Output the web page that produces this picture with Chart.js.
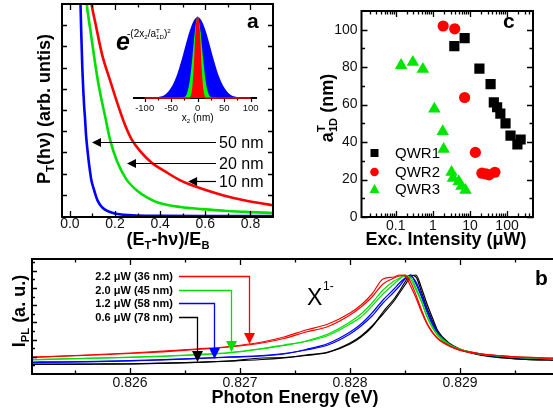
<!DOCTYPE html>
<html>
<head>
<meta charset="utf-8">
<title>Trion tail and localization length</title>
<script src="https://cdn.jsdelivr.net/npm/chart.js@4.4.1/dist/chart.umd.min.js"></script>
<style>
  html, body { margin: 0; padding: 0; overflow: hidden; background: #fff; }
  body { position: relative; width: 553px; height: 418px; }
  canvas { position: absolute; }
</style>
</head>
<body>
<canvas id="chartA" width="280" height="250" style="left:0;top:0"></canvas>
<canvas id="inset" width="140" height="125" style="left:125px;top:5px"></canvas>
<canvas id="chartC" width="273" height="250" style="left:280px;top:0"></canvas>
<canvas id="chartB" width="560" height="168" style="left:0;top:250px"></canvas>
<script>
const FONT = "'Liberation Sans', Arial, Helvetica, sans-serif";
const INK = '#111';
const RED = '#ff0000', GREEN = '#00e000', BLUE = '#0000ff', BLACK = '#000000';

// ---- (a) low energy tail P_T for 10, 20, 50 nm
const tailRedX = [0.085, 0.093, 0.115, 0.143, 0.178, 0.211, 0.244, 0.274, 0.316, 0.364, 0.422, 0.489, 0.585, 0.681, 0.777, 0.9];
const tailRedY = [1.10, 1.02, 0.90, 0.76, 0.64, 0.53, 0.43, 0.36, 0.30, 0.25, 0.21, 0.168, 0.128, 0.097, 0.073, 0.05];
const tailGreenX = [0.070, 0.074, 0.082, 0.093, 0.105, 0.119, 0.134, 0.156, 0.178, 0.208, 0.249, 0.297, 0.345, 0.393, 0.489, 0.585, 0.681, 0.777, 0.9];
const tailGreenY = [1.15, 1.02, 0.94, 0.86, 0.77, 0.67, 0.58, 0.47, 0.36, 0.26, 0.175, 0.12, 0.085, 0.062, 0.042, 0.032, 0.025, 0.019, 0.014];
const tailBlueX = [0.044, 0.047, 0.051, 0.055, 0.059, 0.063, 0.067, 0.071, 0.076, 0.081, 0.086, 0.095, 0.105, 0.115, 0.124, 0.143, 0.163, 0.191, 0.220, 0.259, 0.297, 0.393, 0.585, 0.9];
const tailBlueY = [1.2, 1.0, 0.84, 0.70, 0.60, 0.52, 0.46, 0.39, 0.33, 0.28, 0.235, 0.17, 0.13, 0.095, 0.07, 0.04, 0.025, 0.014, 0.008, 0.004, 0.002, 0.0005, 0, 0];
const tickLabelsA = [0, 0.2, 0.4, 0.6, 0.8];
const minorTicksA = [0.1, 0.3, 0.5, 0.7];
const levelTicksA = [0.1, 0.2, 0.3, 0.4, 0.5, 0.6, 0.7, 0.8, 0.9];
const arrowLabelsA = ['50 nm', '20 nm', '10 nm'];
const arrowTipXA = [0.098, 0.253, 0.524];
const arrowTipYA = [0.347, 0.252, 0.163];

// inset: wave functions along x2
const wfX = [-120, -100, -80, -70, -60, -50, -40, -30, -25, -20, -15, -10, -5, 0, 5, 10, 15, 20, 25, 30, 40, 50, 60, 70, 80, 100, 112];
const wfBlue = [0, 0.001, 0.006, 0.018, 0.05, 0.13, 0.27, 0.48, 0.60, 0.72, 0.83, 0.92, 0.98, 1.0, 0.98, 0.92, 0.83, 0.72, 0.60, 0.48, 0.27, 0.13, 0.05, 0.018, 0.006, 0.001, 0];
const wfGreen = [0, 0, 0, 0, 0, 0, 0, 0.005, 0.012, 0.06, 0.21, 0.50, 0.84, 1.0, 0.84, 0.50, 0.21, 0.06, 0.012, 0.005, 0, 0, 0, 0, 0, 0, 0];
const wfRedX = [-100, -15, -12, -9, -6, -3, 0, 3, 6, 9, 12, 15, 100];
const wfRed = [0, 0, 0.02, 0.11, 0.37, 0.78, 1.0, 0.78, 0.37, 0.11, 0.02, 0, 0];
const tickLabelsInset = [-100, -50, 0, 50, 100];
const minorTicksInset = [-75, -25, 25, 75];

// ---- (c) a_1D^T versus excitation intensity
const qwr1X = [3.8, 7.2, 18, 36, 44, 54, 66, 91, 124, 190, 232];
const qwr1Y = [91.2, 95.5, 79.2, 71, 61.2, 58.6, 55.2, 50, 43.5, 38.8, 41.4];
const qwr2X = [1.9, 3.9, 7.2, 14, 21, 27, 33, 47];
const qwr2Y = [102, 100.5, 63.8, 34.5, 23.4, 23, 22.5, 23.9];
const qwr3X = [0.14, 0.29, 0.54, 1.1, 1.85, 1.96, 3.2, 3.5, 5, 5.9, 7.6];
const qwr3Y = [81, 82.7, 78.9, 57.7, 45.7, 36.2, 23.9, 20.8, 19, 16.5, 14.3];
const seriesC = ['QWR1', 'QWR2', 'QWR3'];
const tickLabelsC = [0.1, 1, 10, 100];
const minorTicksC = [0.02, 0.03, 0.04, 0.05, 0.06, 0.07, 0.08, 0.09, 0.2, 0.3, 0.4, 0.5, 0.6, 0.7, 0.8, 0.9,
  2, 3, 4, 5, 6, 7, 8, 9, 20, 30, 40, 50, 60, 70, 80, 90, 200, 300, 400];
const sizeTicksC = [0, 20, 40, 60, 80, 100];
const minorSizeTicksC = [10, 30, 50, 70, 90];

// ---- (b) PL spectra, two traces per power
const energyB = [0.8251, 0.8254, 0.8257, 0.826, 0.8263, 0.8266, 0.8269, 0.8272, 0.8274, 0.8276, 0.8278, 0.828, 0.8281, 0.8282, 0.8283, 0.8284,
  0.82845, 0.8285, 0.82855, 0.8286, 0.82865, 0.8287, 0.82875, 0.8288, 0.8289, 0.829, 0.8291, 0.8292, 0.8294, 0.8296, 0.8298, 0.8299];
const pl22a = [0.165, 0.18, 0.195, 0.21, 0.228, 0.25, 0.275, 0.32, 0.37, 0.44, 0.50, 0.61, 0.69, 0.80, 0.95, 0.97, 0.99, 0.98, 0.88, 0.76, 0.62, 0.50, 0.41, 0.35, 0.28, 0.235, 0.212, 0.198, 0.178, 0.165, 0.158, 0.155];
const pl22b = [0.168, 0.178, 0.19, 0.205, 0.222, 0.245, 0.27, 0.31, 0.355, 0.42, 0.475, 0.59, 0.67, 0.77, 0.90, 0.96, 0.98, 0.99, 0.92, 0.79, 0.64, 0.51, 0.42, 0.355, 0.285, 0.242, 0.218, 0.2, 0.18, 0.168, 0.16, 0.157];
const pl20a = [0.14, 0.15, 0.158, 0.165, 0.175, 0.19, 0.21, 0.25, 0.285, 0.33, 0.40, 0.52, 0.60, 0.71, 0.84, 0.93, 0.96, 0.99, 0.95, 0.84, 0.72, 0.57, 0.46, 0.38, 0.29, 0.245, 0.215, 0.195, 0.175, 0.162, 0.153, 0.15];
const pl20b = [0.145, 0.152, 0.16, 0.168, 0.18, 0.195, 0.215, 0.255, 0.29, 0.325, 0.385, 0.50, 0.57, 0.68, 0.80, 0.90, 0.95, 0.98, 0.97, 0.86, 0.73, 0.58, 0.47, 0.39, 0.30, 0.25, 0.22, 0.20, 0.178, 0.163, 0.154, 0.15];
const pl12a = [0.115, 0.118, 0.123, 0.13, 0.14, 0.153, 0.168, 0.18, 0.2, 0.245, 0.305, 0.42, 0.50, 0.61, 0.74, 0.85, 0.91, 0.96, 0.99, 0.90, 0.77, 0.62, 0.49, 0.40, 0.29, 0.24, 0.215, 0.195, 0.175, 0.16, 0.152, 0.15];
const pl12b = [0.12, 0.122, 0.126, 0.133, 0.143, 0.156, 0.17, 0.185, 0.205, 0.24, 0.29, 0.40, 0.48, 0.58, 0.71, 0.82, 0.88, 0.95, 0.98, 0.92, 0.79, 0.64, 0.51, 0.41, 0.30, 0.245, 0.218, 0.197, 0.175, 0.16, 0.152, 0.148];
const pl06a = [0.097, 0.097, 0.098, 0.10, 0.107, 0.116, 0.128, 0.145, 0.162, 0.185, 0.215, 0.30, 0.37, 0.47, 0.62, 0.75, 0.83, 0.92, 0.99, 0.97, 0.82, 0.66, 0.53, 0.41, 0.30, 0.245, 0.21, 0.185, 0.16, 0.145, 0.14, 0.138];
const pl06b = [0.1, 0.099, 0.1, 0.102, 0.108, 0.117, 0.13, 0.16, 0.165, 0.19, 0.22, 0.31, 0.38, 0.48, 0.60, 0.73, 0.81, 0.89, 0.97, 0.99, 0.86, 0.70, 0.56, 0.43, 0.31, 0.25, 0.215, 0.19, 0.163, 0.147, 0.141, 0.139];
const powerLabels = ['2.2 \u03bcW (36 nm)', '2.0 \u03bcW (45 nm)', '1.2 \u03bcW (58 nm)', '0.6 \u03bcW (78 nm)'];
const arrowTipXB = [0.827082, 0.826918, 0.826764, 0.826609];
const arrowTipYB = [0.30, 0.22, 0.15, 0.12];
const tickLabelsB = [0.826, 0.827, 0.828, 0.829];
const minorTicksB = [0.8255, 0.8265, 0.8275, 0.8285, 0.8295];
const levelTicksB = [0.086, 0.172, 0.258, 0.344, 0.43, 0.516, 0.602, 0.688, 0.774, 0.86, 0.946, 1.032, 1.118];

const powerColors = [RED, GREEN, BLUE, BLACK];

// ---- helpers
function curve(xs, ys, color, width) {
  return {
    data: xs.map((x, i) => ({ x: x, y: ys[i] })),
    showLine: true, borderColor: color, borderWidth: width, pointRadius: 0,
    cubicInterpolationMode: 'monotone', clip: 0, fill: false
  };
}
function marks(values, len) { return values.map(v => [v, len]); }

function layoutRich(ctx, parts, size, style) {
  let x = 0, hold = 0;
  const out = [];
  parts.forEach(p => {
    const k = p.k || 'n';
    const s = k === 'n' ? size : size * 0.62;
    ctx.font = style + ' ' + s + 'px ' + FONT;
    const w = ctx.measureText(p.t).width;
    const dy = k === 'sup' ? -size * 0.42 : k === 'sub' ? size * 0.24 : 0;
    out.push({ t: p.t, x: x, dy: dy, s: s });
    if (p.stack) hold = w; else { x += Math.max(w, hold); hold = 0; }
  });
  return { out: out, width: x };
}
function drawRich(ctx, parts, x, y, size, style, align) {
  const L = layoutRich(ctx, parts, size, style);
  const x0 = align === 'center' ? x - L.width / 2 : align === 'right' ? x - L.width : x;
  ctx.textAlign = 'left';
  ctx.textBaseline = 'alphabetic';
  L.out.forEach(o => {
    ctx.font = style + ' ' + o.s + 'px ' + FONT;
    ctx.fillText(o.t, x0 + o.x, y + o.dy);
  });
}
function drawRotated(ctx, parts, bx, cy, size) {
  ctx.save();
  ctx.translate(bx, cy);
  ctx.rotate(-Math.PI / 2);
  drawRich(ctx, parts, 0, 0, size, 'bold', 'center');
  ctx.restore();
}

// box with inward ticks
function framePlugin(id, cfg) {
  return {
    id: id,
    afterDatasetsDraw(chart) {
      const ctx = chart.ctx, a = chart.chartArea;
      const xs = chart.scales.x, ys = chart.scales.y;
      ctx.save();
      ctx.strokeStyle = '#000';
      ctx.lineWidth = 1.3;
      ctx.beginPath();
      (cfg.x || []).forEach(([v, len]) => {
        const p = Math.round(xs.getPixelForValue(v)) + 0.5;
        if (p <= a.left + 1 || p >= a.right - 1) return;
        ctx.moveTo(p, a.bottom); ctx.lineTo(p, a.bottom - len);
        if (cfg.top) { ctx.moveTo(p, a.top); ctx.lineTo(p, a.top + len); }
      });
      (cfg.y || []).forEach(([v, len]) => {
        const p = Math.round(ys.getPixelForValue(v)) + 0.5;
        ctx.moveTo(a.left, p); ctx.lineTo(a.left + len, p);
        if (cfg.right) { ctx.moveTo(a.right, p); ctx.lineTo(a.right - len, p); }
      });
      ctx.stroke();
      ctx.lineWidth = 2;
      ctx.strokeRect(a.left, a.top, a.right - a.left, a.bottom - a.top);
      ctx.restore();
    }
  };
}

function xAxis(min, max, labels, fmt, size, pad, height) {
  return {
    type: 'linear', min: min, max: max,
    grid: { display: false, drawTicks: false }, border: { display: false },
    afterBuildTicks: s => { s.ticks = labels.map(v => ({ value: v })); },
    afterFit: s => { s.height = height; },
    ticks: { padding: pad, color: INK, maxRotation: 0, autoSkip: false,
      font: { family: FONT, size: size, lineHeight: 1 }, callback: fmt }
  };
}
const quiet = { legend: { display: false }, tooltip: { enabled: false } };

// ---- panel a
const notesA = {
  id: 'notesA',
  afterDraw(chart) {
    const ctx = chart.ctx, xs = chart.scales.x, ys = chart.scales.y;
    ctx.save();
    ctx.fillStyle = '#000';
    ctx.strokeStyle = '#000';
    arrowLabelsA.forEach((label, i) => {
      const tx = xs.getPixelForValue(arrowTipXA[i]);
      const ty = Math.round(ys.getPixelForValue(arrowTipYA[i])) + 0.5;
      ctx.lineWidth = 1.2;
      ctx.beginPath(); ctx.moveTo(tx + 8, ty); ctx.lineTo(216, ty); ctx.stroke();
      ctx.beginPath(); ctx.moveTo(tx, ty); ctx.lineTo(tx + 9, ty - 4.5); ctx.lineTo(tx + 9, ty + 4.5); ctx.closePath(); ctx.fill();
      ctx.font = '16px ' + FONT;
      ctx.textAlign = 'left';
      ctx.textBaseline = 'middle';
      ctx.fillText(label, 219, ty + 1);
    });
    drawRotated(ctx, [{ t: 'P' }, { t: 'T', k: 'sub' }, { t: '(h\u03bd) (arb. untis)' }], 50, 109, 18);
    drawRich(ctx, [{ t: '(E' }, { t: 'T', k: 'sub' }, { t: '-h\u03bd)/E' }, { t: 'B', k: 'sub' }], 168, 245, 18, 'bold', 'center');
    ctx.font = 'bold 21px ' + FONT;
    ctx.textAlign = 'left'; ctx.textBaseline = 'alphabetic';
    ctx.fillText('a', 247, 28);
    // inset formula
    ctx.font = 'italic bold 25px ' + FONT;
    ctx.fillText('e', 116, 50);
    drawRich(ctx, [{ t: '-(2x' }, { t: '2', k: 'sub' }, { t: '/a' }, { t: 'T', k: 'sup', stack: true }, { t: '1D', k: 'sub' }, { t: ')' }, { t: '2', k: 'sup' }], 127, 37, 10, 'normal', 'left');
    ctx.restore();
  }
};

new Chart(document.getElementById('chartA'), {
  type: 'scatter',
  data: { datasets: [
    curve(tailRedX, tailRedY, RED, 2.6),
    curve(tailGreenX, tailGreenY, GREEN, 2.6),
    curve(tailBlueX, tailBlueY, BLUE, 2.6)
  ] },
  options: {
    animation: false, responsive: false,
    layout: { padding: { left: 62, right: 7, top: 4, bottom: 13 } },
    scales: {
      x: xAxis(-0.035, 0.9, tickLabelsA, v => v.toFixed(1), 14, 0, 20),
      y: { type: 'linear', display: false, min: -0.005, max: 1.0 }
    },
    plugins: quiet
  },
  plugins: [framePlugin('frameA', {
    x: marks(tickLabelsA, 6).concat(marks(minorTicksA, 3.5)), y: marks(levelTicksA, 5), top: true, right: true
  }), notesA]
});

// ---- inset
const insetAxis = {
  id: 'insetAxis',
  beforeDatasetsDraw(chart) {
    const ctx = chart.ctx, a = chart.chartArea, xs = chart.scales.x;
    ctx.save();
    ctx.strokeStyle = '#000';
    ctx.lineWidth = 1.2;
    ctx.beginPath();
    marks(tickLabelsInset, 4).concat(marks(minorTicksInset, 2.5)).forEach(([v, len]) => {
      const p = Math.round(xs.getPixelForValue(v)) + 0.5;
      ctx.moveTo(p, a.bottom); ctx.lineTo(p, a.bottom + len);
    });
    ctx.stroke();
    ctx.lineWidth = 2;
    ctx.beginPath(); ctx.moveTo(a.left, a.bottom); ctx.lineTo(a.right, a.bottom); ctx.stroke();
    ctx.restore();
  },
  afterDraw(chart) {
    const ctx = chart.ctx;
    ctx.save();
    ctx.fillStyle = '#000';
    drawRich(ctx, [{ t: 'x' }, { t: '2', k: 'sub' }, { t: ' (nm)' }], chart.scales.x.getPixelForValue(0), 116, 10, 'normal', 'center');
    ctx.restore();
  }
};
function area(xs, ys, color, line) {
  return {
    data: xs.map((x, i) => ({ x: x, y: ys[i] })),
    showLine: true, fill: 'origin', backgroundColor: color, borderColor: color,
    borderWidth: line, pointRadius: 0, cubicInterpolationMode: 'monotone', clip: 2
  };
}
new Chart(document.getElementById('inset'), {
  type: 'scatter',
  data: { datasets: [
    area(wfRedX, wfRed, RED, 1.6),
    area(wfX, wfGreen, '#00ff00', 0),
    area(wfX, wfBlue, BLUE, 0)
  ] },
  options: {
    animation: false, responsive: false,
    layout: { padding: { left: 8, right: 7, top: 10, bottom: 12 } },
    scales: {
      x: xAxis(-122, 112, tickLabelsInset, v => String(v), 9.5, 6, 20),
      y: { type: 'linear', display: false, min: 0, max: 1.025 }
    },
    plugins: quiet
  },
  plugins: [insetAxis]
});

// ---- panel c
const notesC = {
  id: 'notesC',
  afterDraw(chart) {
    const ctx = chart.ctx;
    ctx.save();
    ctx.fillStyle = '#000';
    drawRotated(ctx, [{ t: 'a' }, { t: 'T', k: 'sup', stack: true }, { t: '1D', k: 'sub' }, { t: ' (nm)' }], 53, 108, 18);
    drawRich(ctx, [{ t: 'Exc. Intensity (\u03bcW)' }], 166, 245, 18, 'bold', 'center');
    ctx.font = 'bold 21px ' + FONT;
    ctx.textAlign = 'left'; ctx.textBaseline = 'alphabetic';
    ctx.fillText('c', 223, 28);
    // legend
    const rows = [153, 172, 189];
    const colors = [BLACK, RED, '#00e600'];
    seriesC.forEach((name, i) => {
      const y = rows[i];
      ctx.fillStyle = colors[i];
      ctx.beginPath();
      if (i === 0) ctx.rect(90.5, y - 4, 8, 8);
      else if (i === 1) ctx.arc(94.5, y, 4.3, 0, Math.PI * 2);
      else { ctx.moveTo(94.5, y - 5); ctx.lineTo(99.5, y + 4); ctx.lineTo(89.5, y + 4); ctx.closePath(); }
      ctx.fill();
      ctx.fillStyle = '#000';
      ctx.font = '15px ' + FONT;
      ctx.textBaseline = 'middle';
      ctx.fillText(name, 115, y + 1);
    });
    ctx.restore();
  }
};
function dots(xs, ys, color, style, r) {
  return {
    data: xs.map((x, i) => ({ x: x, y: ys[i] })),
    pointStyle: style, pointRadius: r, backgroundColor: color, borderWidth: 0
  };
}
new Chart(document.getElementById('chartC'), {
  type: 'scatter',
  data: { datasets: [
    dots(qwr1X, qwr1Y, BLACK, 'rect', 7.2),
    dots(qwr2X, qwr2Y, RED, 'circle', 5.6),
    dots(qwr3X, qwr3Y, '#00e600', 'triangle', 7.2)
  ] },
  options: {
    animation: false, responsive: false,
    layout: { padding: { left: 41.5, right: 20, top: 4, bottom: 13 } },
    scales: {
      x: Object.assign(xAxis(0.012, 500, tickLabelsC, v => String(v), 14, 2, 20), { type: 'logarithmic' }),
      y: {
        type: 'linear', min: 0, max: 110,
        grid: { display: false, drawTicks: false }, border: { display: false },
        afterBuildTicks: s => { s.ticks = sizeTicksC.map(v => ({ value: v })); },
        afterFit: s => { s.width = 40; },
        ticks: { padding: 4, color: INK, font: { family: FONT, size: 14, lineHeight: 1 } }
      }
    },
    plugins: quiet
  },
  plugins: [framePlugin('frameC', {
    x: marks(tickLabelsC, 6).concat(marks(minorTicksC, 3.5)),
    y: marks(sizeTicksC, 6).concat(marks(minorSizeTicksC, 3.5)), top: true, right: true
  }), notesC]
});

// ---- panel b
const notesB = {
  id: 'notesB',
  afterDraw(chart) {
    const ctx = chart.ctx, xs = chart.scales.x, ys = chart.scales.y;
    ctx.save();
    powerLabels.forEach((label, i) => {
      const tx = Math.round(xs.getPixelForValue(arrowTipXB[i])) + 0.5;
      const ty = ys.getPixelForValue(arrowTipYB[i]);
      const ly = Math.round(26 + i * 13.6) + 0.5;
      ctx.strokeStyle = powerColors[i];
      ctx.fillStyle = powerColors[i];
      ctx.lineWidth = 1.3;
      ctx.beginPath(); ctx.moveTo(179, ly); ctx.lineTo(tx, ly); ctx.lineTo(tx, ty - 10); ctx.stroke();
      ctx.beginPath(); ctx.moveTo(tx - 5.5, ty - 11); ctx.lineTo(tx + 5.5, ty - 11); ctx.lineTo(tx, ty); ctx.closePath(); ctx.fill();
      ctx.fillStyle = '#000';
      ctx.font = 'bold 11px ' + FONT;
      ctx.textAlign = 'right';
      ctx.textBaseline = 'middle';
      ctx.fillText(label, 173, ly);
    });
    ctx.fillStyle = '#000';
    drawRotated(ctx, [{ t: 'I' }, { t: 'PL', k: 'sub' }, { t: ' (a. u.)' }], 25, 61, 18);
    drawRich(ctx, [{ t: 'Photon Energy (eV)' }], 295, 153, 18, 'bold', 'center');
    ctx.textAlign = 'left'; ctx.textBaseline = 'alphabetic';
    ctx.font = 'bold 21px ' + FONT;
    ctx.fillText('b', 535, 35);
    ctx.font = '23px ' + FONT;
    ctx.fillText('X', 307, 55);
    ctx.font = '12px ' + FONT;
    ctx.fillText('1-', 323, 40);
    ctx.restore();
  }
};
new Chart(document.getElementById('chartB'), {
  type: 'scatter',
  data: { datasets: [
    curve(energyB, pl22a, RED, 1.2), curve(energyB, pl22b, RED, 1.2),
    curve(energyB, pl20a, GREEN, 1.2), curve(energyB, pl20b, GREEN, 1.2),
    curve(energyB, pl12a, BLUE, 1.2), curve(energyB, pl12b, BLUE, 1.2),
    curve(energyB, pl06a, BLACK, 1.2), curve(energyB, pl06b, BLACK, 1.2)
  ] },
  options: {
    animation: false, responsive: false,
    layout: { padding: { left: 32, right: 0, top: 9, bottom: 24 } },
    scales: {
      x: xAxis(0.825109, 0.829909, tickLabelsB, v => v.toFixed(3), 14, 2, 20),
      y: { type: 'linear', display: false, min: 0, max: 1.15 }
    },
    plugins: quiet
  },
  plugins: [framePlugin('frameB', {
    x: marks(tickLabelsB, 6).concat(marks(minorTicksB, 3.5)),
    y: levelTicksB.map((v, i) => [v, i % 2 ? 5 : 3]), top: true, right: false
  }), notesB]
});
</script>
</body>
</html>
